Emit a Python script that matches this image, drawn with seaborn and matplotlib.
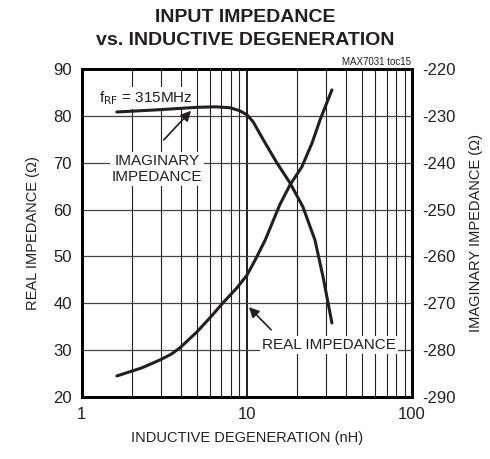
import matplotlib
matplotlib.use("Agg")
import matplotlib.pyplot as plt
from matplotlib.ticker import LogLocator, FixedLocator, NullFormatter
import seaborn as sns
import pandas as pd

sns.set_theme(style="white")
plt.rcParams['font.family'] = ['Liberation Sans', 'DejaVu Sans']
plt.rcParams['axes.unicode_minus'] = False

# Real impedance (left axis, ohms) vs inductance (nH)
real_l = [1.63, 2.3, 2.97, 3.5, 3.93, 4.98, 5.97, 7.16, 8.7, 10.0, 11.2, 12.9, 15.8, 18.2, 21.5, 24.8, 27.7, 32.7]
real_z = [24.5, 26.2, 27.9, 29.2, 30.5, 33.9, 36.9, 40.1, 43.3, 46.0, 49.2, 53.5, 61.0, 65.2, 69.1, 74.2, 79.1, 85.5]

# Imaginary impedance (right axis, ohms)
imag_l = [1.63, 3.0, 5.0, 6.5, 7.9, 9.0, 10.0, 10.9, 12.5, 15.2, 18.2, 21.8, 25.8, 28.9, 32.7]
imag_z = [-229.2, -228.7, -228.2, -228.1, -228.3, -228.9, -229.8, -231.3, -235.0, -240.1,
          -244.3, -249.4, -256.5, -264.4, -274.2]

df_real = pd.DataFrame({'L': real_l, 'Z': real_z})
df_imag = pd.DataFrame({'L': imag_l, 'Z': imag_z})

ink = '#231f20'
fig = plt.figure(figsize=(4.9, 4.59), dpi=100)
ax = fig.add_axes([0.167, 0.135, 0.674, 0.715])
ax2 = ax.twinx()

sns.lineplot(data=df_real, x='L', y='Z', ax=ax, color=ink, lw=2.2, zorder=5)
sns.lineplot(data=df_imag, x='L', y='Z', ax=ax2, color=ink, lw=2.2, zorder=5)

ax.set_xscale('log')
ax.set_xlim(1, 100)
ax.set_ylim(20, 90)
ax2.set_ylim(-290, -220)
ax.yaxis.set_major_locator(FixedLocator(range(20, 91, 10)))
ax2.yaxis.set_major_locator(FixedLocator(range(-290, -219, 10)))
ax.xaxis.set_minor_locator(LogLocator(base=10, subs=range(2, 10)))
ax.xaxis.set_minor_formatter(NullFormatter())
ax.set_xticks([1, 10, 100])
ax.set_xticklabels(['1', '10', '100'])

ax.grid(True, which='major', axis='y', color='#444444', lw=0.9)
ax.grid(True, which='major', axis='x', color=ink, lw=1.4)
ax.grid(True, which='minor', axis='x', color=ink, lw=0.8)

for a in (ax, ax2):
    for s in a.spines.values():
        s.set_color('black')
        s.set_linewidth(2)
    a.tick_params(which='both', length=0, labelsize=12, colors=ink, pad=7)
ax2.patch.set_visible(False)

ax.set_xlabel('INDUCTIVE DEGENERATION (nH)', fontsize=10.5, color=ink, labelpad=7)
ax.set_ylabel('REAL IMPEDANCE (Ω)', fontsize=10.5, color=ink, labelpad=10)
ax2.set_ylabel('IMAGINARY IMPEDANCE (Ω)', fontsize=10.5, color=ink, labelpad=10)

fig.suptitle('INPUT IMPEDANCE\nvs. INDUCTIVE DEGENERATION', y=0.98, fontsize=14,
             fontweight='bold', color=ink, linespacing=1.45)
fig.text(0.838, 0.853, 'MAX7031 toc15', fontsize=7, ha='right', va='bottom', color=ink)

box = dict(facecolor='white', edgecolor='none', pad=1.5)
ax.text(1.27, 83.8, r'f$_{\rm RF}$ = 315MHz', fontsize=11, ha='left', va='center',
        color=ink, bbox=box, zorder=4)
ax.text(2.85, 68.7, 'IMAGINARY\nIMPEDANCE', fontsize=11, ha='center', va='center',
        color=ink, bbox=box, zorder=4, linespacing=1.15)
ax.text(12.4, 31.1, 'REAL IMPEDANCE', fontsize=11, ha='left', va='center',
        color=ink, bbox=box, zorder=4)

arrow = dict(arrowstyle='-|>', color=ink, lw=1.2, mutation_scale=15)
ax.annotate('', xy=(4.71, 81.5), xytext=(3.05, 74.4), arrowprops=arrow, zorder=6)
ax.annotate('', xy=(10.0, 39.6), xytext=(14.4, 33.9), arrowprops=arrow, zorder=6)

fig.savefig('out.png', dpi=100)
